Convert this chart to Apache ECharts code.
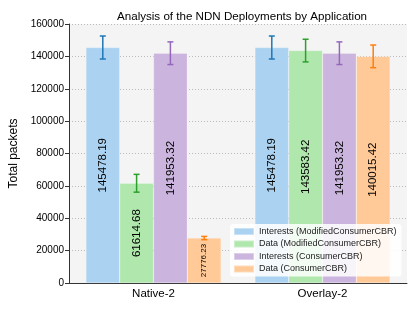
<!DOCTYPE html>
<html><head><meta charset="utf-8">
<script src="https://cdn.jsdelivr.net/npm/echarts@6/dist/echarts.min.js"></script>
<style>html,body{margin:0;padding:0;background:#fff}#c{width:415px;height:311px}</style>
</head><body><div id="c"></div>
<script>
const categories = ['Native-2', 'Overlay-2'];
const seriesNames = ['Interests (ModifiedConsumerCBR)', 'Data (ModifiedConsumerCBR)', 'Interests (ConsumerCBR)', 'Data (ConsumerCBR)'];
const interestsMod = [145478.19, 145478.19];
const dataMod = [61614.68, 143583.42];
const interestsCbr = [141953.32, 141953.32];
const dataCbr = [27776.23, 140015.42];
const errInterestsMod = [7100, 7100];
const errDataMod = [5500, 7000];
const errInterestsCbr = [7000, 7000];
const errDataCbr = [1000, 7000];
const yTicks = [0, 20000, 40000, 60000, 80000, 100000, 120000, 140000, 160000];

const values = [interestsMod, dataMod, interestsCbr, dataCbr];
const errs = [errInterestsMod, errDataMod, errInterestsCbr, errDataCbr];
const fills = ['#abd3f1', '#afe7ad', '#cbb5de', '#ffc998'];
const edges = ['#1f77b4', '#2ca02c', '#9467bd', '#ff7f0e'];
const font = 'Liberation Sans';

const series = [];
values.forEach((vals, i) => {
  series.push({
    name: seriesNames[i], type: 'bar', data: vals,
    barGap: '0%', barCategoryGap: '20%',
    itemStyle: { color: fills[i], borderColor: 'rgba(255,255,255,0.35)', borderWidth: 0.6 },
    label: {
      show: true, position: 'inside', rotate: 90,
      fontFamily: font, color: '#000',
      fontSize: 11.5,
      formatter: p => String(p.value)
    }
  });
});
// smaller label for short orange bar
series[3].data = dataCbr.map((v, j) => j === 0 ? { value: v, label: { fontSize: 8 } } : v);

values.forEach((vals, i) => {
  series.push({
    type: 'custom', name: seriesNames[i] + ' err', z: 10,
    data: vals.map((v, j) => [j, v, errs[i][j]]),
    renderItem: (params, api) => {
      const c = api.value(0);
      const band = api.size([1, 0])[0];
      const bw = band * 0.2;
      const xc = api.coord([c, 0])[0] + (i - 1.5) * bw;
      const top = api.coord([c, api.value(1) + api.value(2)])[1];
      const bot = api.coord([c, api.value(1) - api.value(2)])[1];
      const cap = 3;
      const st = { stroke: edges[i], lineWidth: 1.5 };
      return { type: 'group', children: [
        { type: 'line', shape: { x1: xc, y1: top, x2: xc, y2: bot }, style: st },
        { type: 'line', shape: { x1: xc - cap, y1: top, x2: xc + cap, y2: top }, style: st },
        { type: 'line', shape: { x1: xc - cap, y1: bot, x2: xc + cap, y2: bot }, style: st }
      ]};
    },
    tooltip: { show: false }
  });
});

const chart = echarts.init(document.getElementById('c'), null, { renderer: 'canvas' });
chart.setOption({
  animation: false,
  backgroundColor: '#fff',
  title: {
    text: 'Analysis of the NDN Deployments by Application',
    left: 112, top: 6,
    textStyle: { fontFamily: font, fontSize: 11.6, fontWeight: 'normal', color: '#000' }
  },
  grid: { left: 69, right: 8, top: 24, bottom: 28, show: true, backgroundColor: '#f4f4f4', borderWidth: 0,
    containLabel: false, outerBoundsMode: 'none' },
  legend: {
    data: seriesNames, orient: 'vertical', left: 230, top: 224,
    backgroundColor: 'rgba(255,255,255,0.85)', borderRadius: 3, padding: [3, 5, 3, 3],
    itemWidth: 20, itemHeight: 7, itemGap: 3.5, icon: 'rect',
    textStyle: { fontFamily: font, fontSize: 9, color: '#222' }
  },
  xAxis: {
    type: 'category', data: categories,
    axisLine: { lineStyle: { color: '#333', width: 1 } },
    axisTick: { alignWithLabel: true, length: 4, lineStyle: { color: '#333' } },
    axisLabel: { fontFamily: font, fontSize: 11.5, color: '#000', margin: 5 },
    splitLine: { show: false }
  },
  yAxis: {
    type: 'value', min: 0, max: 160000, interval: 20000,
    name: 'Total packets', nameLocation: 'middle', nameGap: 36,
    nameTextStyle: { fontFamily: font, fontSize: 12, color: '#000' },
    axisLine: { show: true, lineStyle: { color: '#333', width: 1 } },
    axisTick: { show: true, length: 4, lineStyle: { color: '#333' } },
    axisLabel: { fontFamily: font, fontSize: 10, color: '#000', margin: 5,
      formatter: v => yTicks.includes(v) ? String(v) : '' },
    splitLine: { show: true, lineStyle: { color: '#bbb', type: [1, 2], width: 1 } }
  },
  series
});
</script></body></html>
